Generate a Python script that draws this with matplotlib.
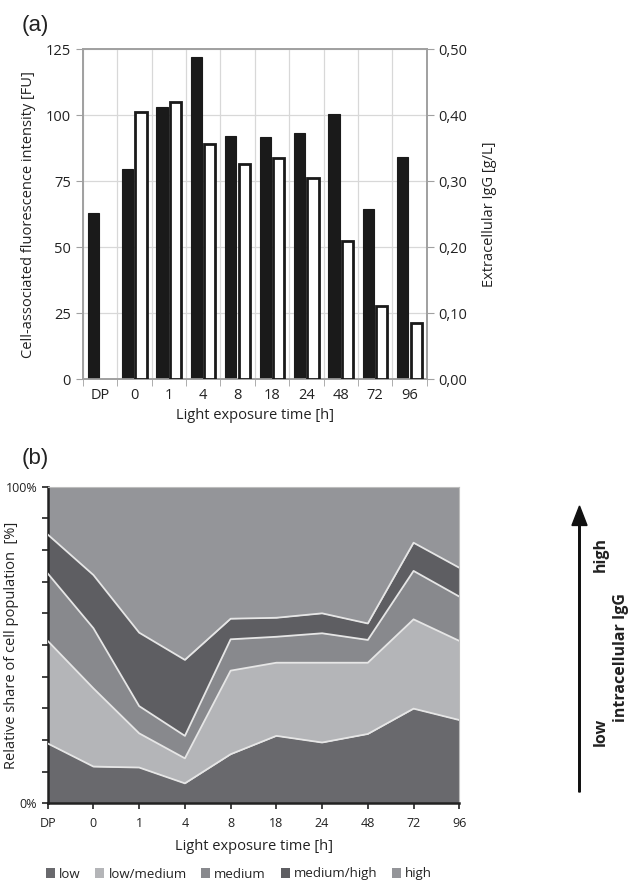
import numpy as np
import matplotlib
matplotlib.use("Agg")
import matplotlib.pyplot as plt
from matplotlib.patches import FancyArrow

plt.rcParams['font.family'] = ['Open Sans', 'DejaVu Sans']

# ---- data ----
time_labels = ["DP", "0", "1", "4", "8", "18", "24", "48", "72", "96"]

fluorescence_fu = [63, 79.5, 103, 122, 92, 91.7, 93.2, 100.6, 64.5, 84.1]
extracellular_igg = [np.nan, 0.405, 0.420, 0.356, 0.326, 0.336, 0.305, 0.210, 0.111, 0.085]

share_low = [18.9, 11.6, 11.3, 6.3, 15.5, 21.3, 19.2, 21.9, 29.9, 26.3]
share_low_medium = [32.4, 24.7, 10.8, 7.9, 26.4, 23.1, 25.2, 22.5, 28.2, 25.0]
share_medium = [21.3, 19.0, 8.6, 7.1, 9.9, 8.2, 9.3, 7.2, 15.3, 14.0]
share_medium_high = [12.3, 16.8, 23.2, 24.0, 6.5, 6.0, 6.3, 5.2, 8.9, 9.1]
share_high = [15.1, 27.9, 46.1, 54.7, 41.7, 41.4, 40.0, 43.2, 17.7, 25.6]

share_names = ["low", "low/medium", "medium", "medium/high", "high"]
share_colors = ["#69696d", "#b4b5b8", "#88898d", "#5e5e62", "#949599"]

W, H = 628, 884
fig = plt.figure(figsize=(W / 100, H / 100), dpi=100)


def frac_box(left, top, right, bottom):
    return [left / W, 1 - bottom / H, (right - left) / W, (bottom - top) / H]


# ---- panel (a): grouped bars with twin axis ----
ax = fig.add_axes(frac_box(82.7, 49.3, 426.7, 379.3))
ax2 = ax.twinx()
x = np.arange(len(time_labels))
bw = 0.33
off = 0.195
ax.bar(x - off, fluorescence_fu, width=bw, color="#1a1a1a", edgecolor="#1a1a1a",
       linewidth=0.8, zorder=3)
ax2.bar(x + off, extracellular_igg, width=bw, color="white", edgecolor="#1a1a1a",
        linewidth=2.0, zorder=3)

ax.set_xlim(-0.5, len(time_labels) - 0.5)
ax.set_ylim(0, 125)
ax2.set_ylim(0, 0.5)
ax.set_yticks([0, 25, 50, 75, 100, 125])
ax2.set_yticks([0, 0.1, 0.2, 0.3, 0.4, 0.5])
ax2.set_yticklabels([f"{v:.2f}".replace(".", ",") for v in ax2.get_yticks()])

ax.set_xticks(x)
ax.set_xticklabels(time_labels)
ax.set_xticks(np.arange(-0.5, len(time_labels)), minor=True)
ax.tick_params(axis="x", which="major", length=0, pad=6, labelsize=10.5, colors="#222222")
ax.tick_params(axis="x", which="minor", length=5, color="#a0a0a0", direction="out")
ax.tick_params(axis="y", length=5, color="#a0a0a0", labelsize=10.5, labelcolor="#222222")
ax2.tick_params(axis="y", length=5, color="#a0a0a0", labelsize=10.5, labelcolor="#222222")

ax.grid(True, axis="y", color="#d8d8d8", linewidth=0.9, zorder=0)
ax.grid(True, axis="x", which="minor", color="#d8d8d8", linewidth=0.9, zorder=0)
ax.set_axisbelow(True)
for a in (ax, ax2):
    for s in a.spines.values():
        s.set_color("#a0a0a0")
        s.set_linewidth(1.2)

ax.set_ylabel("Cell-associated fluorescence intensity [FU]", fontsize=10.5,
              color="#222222")
ax.yaxis.set_label_coords((36 - 82.7) / 344, 0.5)
ax2.set_ylabel("Extracellular IgG [g/L]", fontsize=10.5, color="#222222")
ax2.yaxis.set_label_coords((482 - 82.7) / 344, 0.5)
ax.set_xlabel("Light exposure time [h]", fontsize=10.5, color="#222222", labelpad=4)
fig.text(22 / W, 1 - 25 / H, "(a)", fontsize=16, family="Liberation Sans",
         va="center", ha="left", color="#222222")

# ---- panel (b): stacked area ----
bx = fig.add_axes(frac_box(47.7, 486.7, 459.3, 803.3))
stacks = np.vstack([share_low, share_low_medium, share_medium, share_medium_high, share_high])
# normalise each time point to 100 %
stacks = stacks / stacks.sum(axis=0) * 100
cum = np.vstack([np.zeros(len(time_labels)), np.cumsum(stacks, axis=0)])
for i, (name, col) in enumerate(zip(share_names, share_colors)):
    bx.fill_between(x, cum[i], cum[i + 1], color=col, linewidth=0, label=name, zorder=2)
for i in range(1, 5):
    bx.plot(x, cum[i], color="#e6e6e6", linewidth=1.3, zorder=3)

bx.set_xlim(0, len(time_labels) - 1)
bx.set_ylim(0, 100)
bx.set_xticks(x)
bx.set_xticklabels(time_labels)
bx.set_yticks(np.arange(0, 101, 10))
bx.set_yticklabels(["0%"] + [""] * 9 + ["100%"])
bx.tick_params(axis="both", length=4, width=1.2, color="#222222", labelsize=9,
               labelcolor="#222222")
bx.tick_params(axis="x", pad=6)
bx.spines["left"].set_color("#222222")
bx.spines["bottom"].set_color("#222222")
bx.spines["left"].set_linewidth(1.8)
bx.spines["bottom"].set_linewidth(1.8)
bx.spines["top"].set_color("#bdbdbd")
bx.spines["right"].set_color("#bdbdbd")
bx.set_ylabel("Relative share of cell population  [%]", fontsize=10.5, color="#222222")
bx.yaxis.set_label_coords((19 - 47.7) / 411.6, 0.5)
bx.set_xlabel("Light exposure time [h]", fontsize=10.5, color="#222222", labelpad=6)
handles, labels = bx.get_legend_handles_labels()
leg = fig.legend(handles, labels, loc="center", bbox_to_anchor=(239 / W, 1 - 874 / H),
                 ncol=5, frameon=False, handlelength=0.7, handleheight=0.7,
                 handletextpad=0.3, columnspacing=1.1, fontsize=9.5,
                 borderpad=0, borderaxespad=0)
for t in leg.get_texts():
    t.set_color("#222222")
fig.text(22 / W, 1 - 458 / H, "(b)", fontsize=16, family="Liberation Sans",
         va="center", ha="left", color="#222222")

# intracellular IgG arrow
fig.add_artist(FancyArrow(579.5 / W, 1 - 792 / H, 0, (792 - 506) / H, width=0.0025,
                          head_width=0.024, head_length=0.022,
                          length_includes_head=True, color="#111111",
                          transform=fig.transFigure))
fig.text(601 / W, 1 - 555 / H, "high", rotation=90, fontsize=11.5, fontweight="bold",
         ha="center", va="center", color="#222222")
fig.text(621 / W, 1 - 657 / H, "intracellular IgG", rotation=90, fontsize=11.5,
         fontweight="bold", ha="center", va="center", color="#222222")
fig.text(601 / W, 1 - 732 / H, "low", rotation=90, fontsize=11.5, fontweight="bold",
         ha="center", va="center", color="#222222")

fig.savefig("out.png", dpi=100, facecolor="white")
